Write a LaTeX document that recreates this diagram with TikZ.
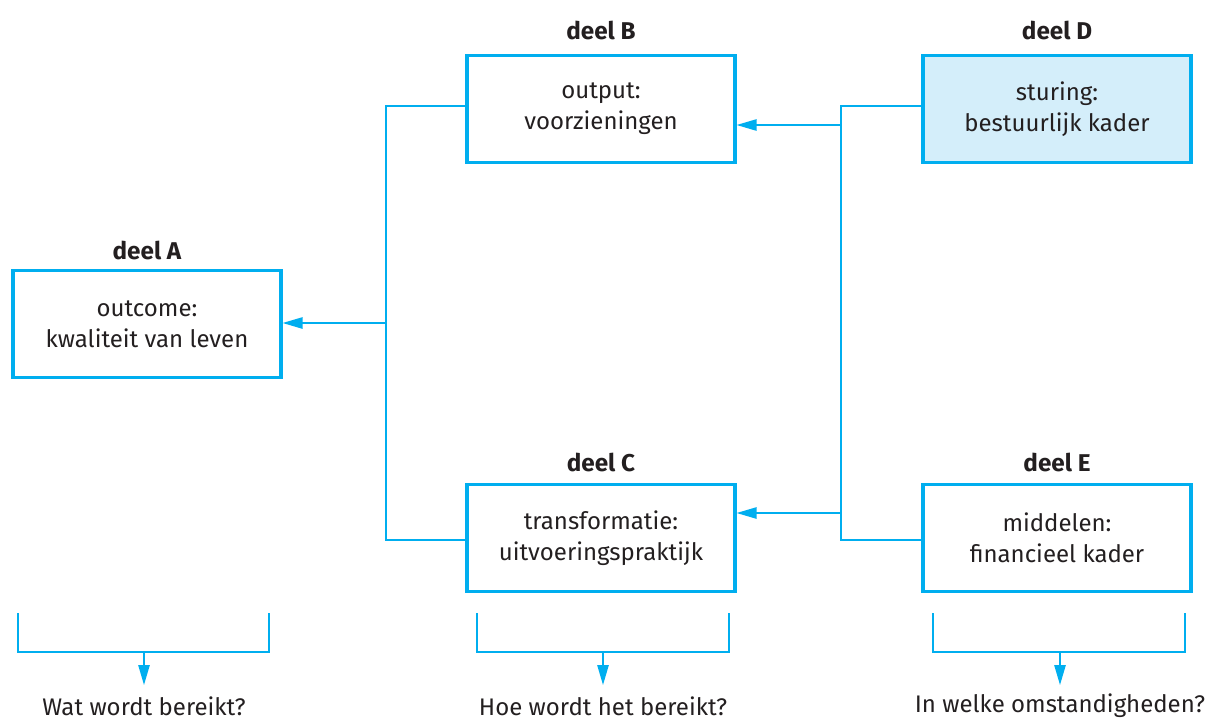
\documentclass[tikz,border=0pt]{standalone}
\usepackage{fontspec}
\setmainfont{Fira Sans}
\usetikzlibrary{arrows.meta}
\definecolor{cy}{HTML}{00AEEF}
\definecolor{cyfill}{HTML}{D4EEFA}
\definecolor{tx}{HTML}{231F20}
\tikzset{
  box/.style={draw=cy, line width=2.4pt, minimum width=201pt, minimum height=80pt, align=center,
    font=\fontsize{18}{23.3}\selectfont, text=tx, inner sep=0pt},
  lbl/.style={font=\fontsize{18.2}{21}\selectfont\bfseries, text=tx},
  qst/.style={font=\fontsize{18}{21}\selectfont, text=tx, inner sep=0.5pt},
  conn/.style={draw=cy, line width=1.2pt},
  arr/.style={conn, -{Triangle[length=15pt,width=8.5pt]}},
}
\begin{document}
\begin{tikzpicture}[x=0.75pt,y=-0.75pt]
\useasboundingbox (0,0) rectangle (1207,722);
% boxes
\node[box] (A) at (147,324) {outcome:\\kwaliteit van leven};
\node[box] (B) at (601,109) {output:\\voorzieningen};
\node[box] (C) at (601,538) {transformatie:\\uitvoeringspraktijk};
\node[box, fill=cyfill] (D) at (1057,109) {sturing:\\bestuurlijk kader};
\node[box] (E) at (1057,538) {middelen:\\financieel kader};
% labels
\node[lbl] (lA) at (147,250) {deel A};
\node[lbl] (lB) at (601,30) {deel B};
\node[lbl] (lC) at (601,462) {deel C};
\node[lbl] (lD) at (1057,30) {deel D};
\node[lbl] (lE) at (1057,462) {deel E};
% left connectors
\coordinate (LB) at (386,106);
\coordinate (LA) at (386,323);
\coordinate (LC) at (386,540);
\draw[conn] (B.west |- LB) -- (LB) -- (LC) -- (C.west |- LC);
\draw[arr] (LA) -- (A.east |- LA);
% right connectors
\coordinate (RD) at (841,106);
\coordinate (RB) at (841,125);
\coordinate (RC) at (841,513);
\coordinate (RE) at (841,540);
\draw[conn] (D.west |- RD) -- (RD) -- (RE) -- (E.west |- RE);
\draw[arr] (RB) -- (B.east |- RB);
\draw[arr] (RC) -- (C.east |- RC);
% brackets
\coordinate (bA1) at (18,613);
\coordinate (bA2) at (269,613);
\coordinate (bAm) at (144,652);
\coordinate (tA) at (144,685);
\draw[conn] (bA1) |- (bAm) -| (bA2);
\draw[arr] (bAm) -- (tA);
\coordinate (bC1) at (477,613);
\coordinate (bC2) at (729,613);
\coordinate (bCm) at (603,652);
\coordinate (tC) at (603,685);
\draw[conn] (bC1) |- (bCm) -| (bC2);
\draw[arr] (bCm) -- (tC);
\coordinate (bE1) at (933,613);
\coordinate (bE2) at (1185,613);
\coordinate (bEm) at (1060,652);
\coordinate (tE) at (1060,685);
\draw[conn] (bE1) |- (bEm) -| (bE2);
\draw[arr] (bEm) -- (tE);
% questions
\node[qst] (qA) at (144,706) {Wat wordt bereikt?};
\node[qst] (qC) at (603,706) {Hoe wordt het bereikt?};
\node[qst] (qE) at (1060,706) {In welke omstandigheden?};
\end{tikzpicture}
\end{document}
